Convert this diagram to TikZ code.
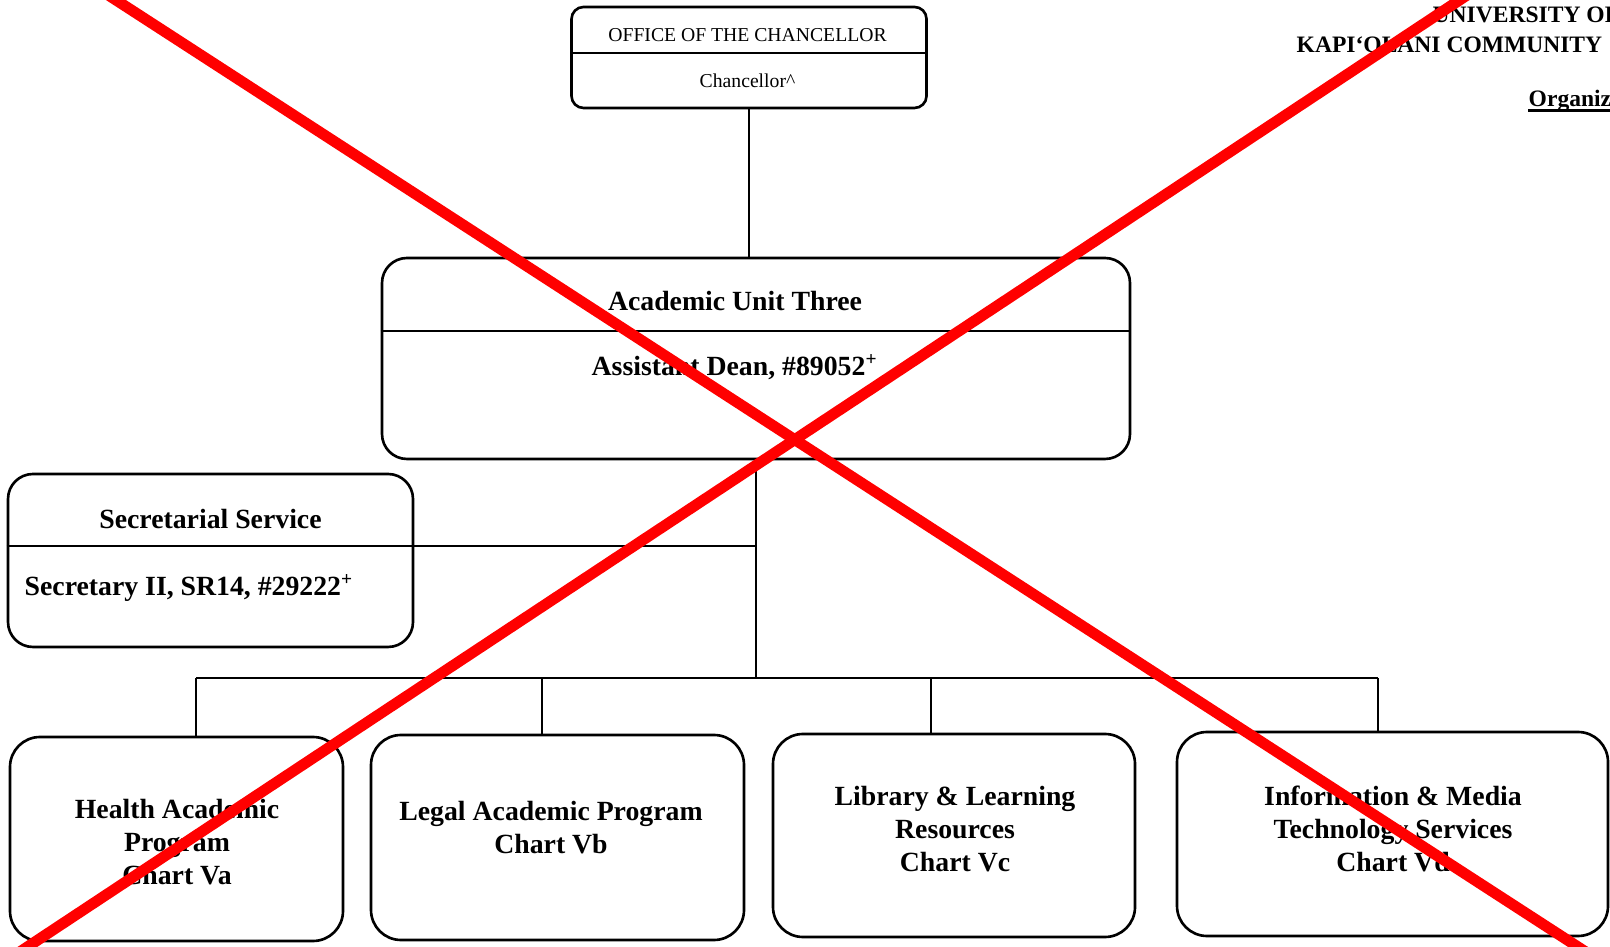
\documentclass[tikz,border=0pt]{standalone}
\usepackage{fontspec}
\setmainfont{Liberation Serif}
\definecolor{crossred}{HTML}{FF0000}

\begin{document}
\begin{tikzpicture}[x=0.1mm, y=-0.1mm,
    boxline/.style={line width=0.75pt},
    orgbox/.style={draw, boxline, inner sep=0pt},
    conn/.style={line width=0.6pt},
    boldlbl/.style={font=\bfseries\fontsize{7.9}{9.4}\selectfont, align=center, inner sep=0pt},
    plainlbl/.style={font=\fontsize{5.6}{6.7}\selectfont, inner sep=0pt},
    headlbl/.style={font=\bfseries\fontsize{6.7}{8}\selectfont, inner sep=0pt, anchor=base west},
    crossline/.style={draw=crossred, line width=3.1pt}]

    \useasboundingbox (0,0) rectangle (1610,947);
    \clip (0,0) rectangle (1610,947);

    % Chancellor box
    \node[orgbox, rounded corners=1.2mm, minimum width=35.5mm, minimum height=10.1mm] (chancellor) at (749,57.5) {};
    \draw[boxline] (chancellor.west |- 0,53) -- (chancellor.east |- 0,53);
    \node[plainlbl] (officetitle) at (747.5,35) {OFFICE OF THE CHANCELLOR};
    \node[plainlbl] (chancellortitle) at (747.5,81) {Chancellor\textasciicircum};

    % Academic unit box
    \node[orgbox, rounded corners=2.5mm, minimum width=74.8mm, minimum height=20.1mm] (unit3) at (756,358.5) {};
    \draw[boxline] (unit3.west |- 0,331) -- (unit3.east |- 0,331);
    \node[boldlbl] (unit3name) at (735,301) {Academic Unit Three};
    \node[boldlbl] (deantitle) at (735,367) {Assistant Dean, \#89052\textsuperscript{+}};

    % Secretarial box
    \node[orgbox, rounded corners=2.5mm, minimum width=40.5mm, minimum height=17.3mm] (secretarial) at (210.5,560.5) {};
    \draw[boxline] (secretarial.west |- 0,546) -- (secretarial.east |- 0,546);
    \node[boldlbl] (secname) at (210.5,519) {Secretarial Service};
    \node[boldlbl, anchor=west] (sectitle) at (24,588) {Secretary II, SR14, \#29222\textsuperscript{+}};

    % Program boxes
    \foreach \name/\cx/\cy/\w/\h in {health/176.5/839/33.3/20.4, legal/557.5/837.5/37.3/20.5,
        library/954/835.5/36.2/20.3, imts/1392.5/834/43.1/20.4}
        \node[orgbox, rounded corners=3mm, minimum width=\w mm, minimum height=\h mm] (\name) at (\cx,\cy) {};
    \node[boldlbl] (healthtxt) at (177,842) {Health Academic\\Program\\Chart Va};
    \node[boldlbl] (legaltxt) at (551,827.5) {Legal Academic Program\\Chart Vb};
    \node[boldlbl] (librarytxt) at (955,829.5) {Library \& Learning\\Resources\\Chart Vc};
    \node[boldlbl] (imtstxt) at (1393,828.5) {Information \& Media\\Technology Services\\Chart Vd};

    % Connectors
    \coordinate (busL) at (196,678);
    \coordinate (busR) at (1378,678);
    \draw[conn] (chancellor.south) -- (chancellor.south |- unit3.north);
    \draw[conn] (unit3.south) -- (unit3.south |- busL);
    \draw[conn] (secretarial.east |- 0,546) -- (unit3.south |- 0,546);
    \draw[conn] (busL) -- (busR);
    \foreach \name/\dx in {health/196, legal/542, library/931, imts/1378}
        \draw[conn] (\dx,678) -- (\name.north -| \dx,0);

    % Heading
    \node[headlbl] (univname) at (1432,23) {UNIVERSITY OF};
    \node[headlbl] (collegename) at (1296,53) {KAPI‘OLANI COMMUNITY};
    \node[headlbl] (charttitle) at (1528,107) {Organiz};
    \draw[line width=0.7pt] ([yshift=-1pt]charttitle.base west) -- ([yshift=-1pt]charttitle.base east);

    % Cross
    \draw[crossline] (85,-20) -- (1609,967);
    \draw[crossline] (1490,-20) -- (-3,967);
\end{tikzpicture}
\end{document}
